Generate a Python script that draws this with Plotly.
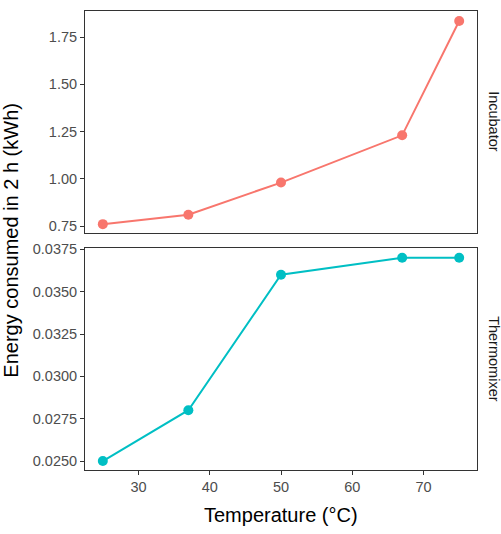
import plotly.graph_objects as go

temperature = [25, 37, 50, 67, 75]
incubator_kwh = [0.76, 0.81, 0.98, 1.23, 1.835]
thermomixer_kwh = [0.025, 0.028, 0.036, 0.037, 0.037]
facet_labels = ["Incubator", "Thermomixer"]
x_ticks = [30, 40, 50, 60, 70]
y1_ticks = [0.75, 1.00, 1.25, 1.50, 1.75]
y2_ticks = [0.0250, 0.0275, 0.0300, 0.0325, 0.0350, 0.0375]

FONT = "Liberation Sans, Arial, sans-serif"
AX = "#333333"

fig = go.Figure()
fig.add_trace(go.Scatter(x=temperature, y=incubator_kwh, mode="lines+markers",
                         line=dict(color="#F8766D", width=2),
                         marker=dict(color="#F8766D", size=10),
                         xaxis="x2", yaxis="y2", showlegend=False))
fig.add_trace(go.Scatter(x=temperature, y=thermomixer_kwh, mode="lines+markers",
                         line=dict(color="#00BFC4", width=2),
                         marker=dict(color="#00BFC4", size=10),
                         xaxis="x", yaxis="y", showlegend=False))

common_axis = dict(showline=True, linecolor=AX, linewidth=1, mirror=True,
                   showgrid=False, zeroline=False, ticks="outside", ticklen=4,
                   tickwidth=1, tickcolor=AX, automargin=False,
                   tickfont=dict(family=FONT, size=14.5, color="#4D4D4D"))

fig.update_layout(
    width=501, height=534,
    margin=dict(l=85, r=24, t=11, b=64, autoexpand=False),
    paper_bgcolor="white", plot_bgcolor="white",
    font=dict(family=FONT),
    xaxis=dict(common_axis, range=[22.5, 77.5], tickvals=x_ticks,
               ticktext=[str(v) for v in x_ticks], anchor="y", domain=[0, 1]),
    xaxis2=dict(common_axis, range=[22.5, 77.5], showticklabels=False, ticks="",
                anchor="y2", matches="x", domain=[0, 1]),
    yaxis=dict(common_axis, range=[0.02447, 0.03758], tickvals=y2_ticks,
               ticktext=[f"{v:.4f}" for v in y2_ticks], anchor="x",
               domain=[0, 0.4837]),
    yaxis2=dict(common_axis, range=[0.713, 1.888], tickvals=y1_ticks,
                ticktext=[f"{v:.2f}" for v in y1_ticks], anchor="x2",
                domain=[0.5163, 1]),
)

ann_common = dict(xref="paper", yref="paper", showarrow=False,
                  xanchor="center", yanchor="middle")
annotations = [
    dict(ann_common, text=facet_labels[0], x=1.043, y=(0.5163 + 1) / 2, textangle=90,
         font=dict(family=FONT, size=14.5, color="#1A1A1A")),
    dict(ann_common, text=facet_labels[1], x=1.043, y=0.4837 / 2, textangle=90,
         font=dict(family=FONT, size=14.5, color="#1A1A1A")),
    dict(ann_common, text="Energy consumed in 2 h (kWh)", x=-0.191, y=0.5, textangle=-90,
         font=dict(family=FONT, size=20, color="black")),
    dict(ann_common, text="Temperature (°C)", x=0.5, y=-0.098,
         font=dict(family=FONT, size=20, color="black")),
]
fig.update_layout(annotations=annotations)

fig.write_html("out.html", config={"displayModeBar": False},
               post_script="document.body.style.margin='0';document.body.style.overflow='hidden';")
